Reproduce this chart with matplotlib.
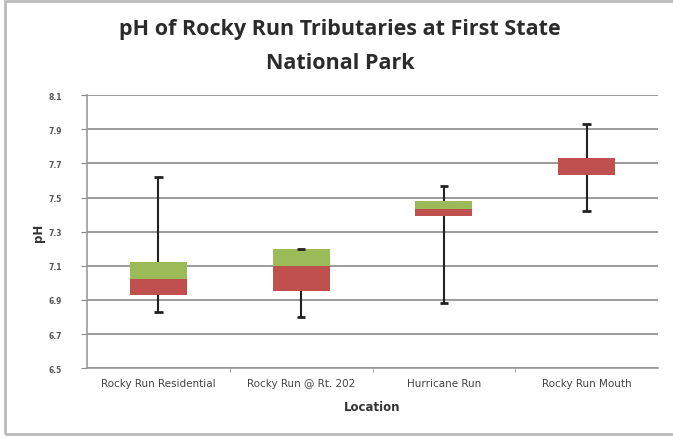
import numpy as np
import matplotlib.pyplot as plt
from matplotlib.patches import Rectangle

# Box plot values
locations = ['Rocky Run Residential', 'Rocky Run @ Rt. 202', 'Hurricane Run', 'Rocky Run Mouth']
ph_min = [6.83, 6.80, 6.88, 7.42]
ph_q1 = [6.93, 6.95, 7.39, 7.63]
ph_median = [7.02, 7.10, 7.43, 7.73]
ph_q3 = [7.12, 7.20, 7.48, 7.73]
ph_max = [7.62, 7.20, 7.57, 7.93]

red = '#C0504D'
green = '#9BBB59'

fig = plt.figure(figsize=(6.73, 4.39), dpi=100)
ax = fig.add_axes([0.129, 0.159, 0.849, 0.622])

x = np.arange(len(locations))
lower = np.array(ph_median) - np.array(ph_q1)
upper = np.array(ph_q3) - np.array(ph_median)

ax.bar(x, lower, bottom=ph_q1, width=0.4, color=red, zorder=3)
ax.bar(x, upper, bottom=ph_median, width=0.4, color=green, zorder=3)

# whiskers
ax.vlines(x, ph_min, ph_q1, color='#222222', lw=1.5, zorder=2)
ax.vlines(x, ph_q3, ph_max, color='#222222', lw=1.5, zorder=2)
ax.hlines(ph_min, x - 0.03, x + 0.03, color='#222222', lw=2, zorder=4)
ax.hlines(ph_max, x - 0.03, x + 0.03, color='#222222', lw=2, zorder=4)

ax.set_xlim(-0.5, len(locations) - 0.5)
ax.set_ylim(6.5, 8.1)
ax.set_yticks(np.arange(6.5, 8.11, 0.2))
ax.set_yticklabels(['%.1f' % v for v in np.arange(6.5, 8.11, 0.2)], fontsize=5.5, fontweight='bold', color='#555555')
ax.set_xticks(x)
ax.set_xticklabels(locations, fontsize=7.5, color='#444444')
ax.set_xticks(x[:-1] + 0.5, minor=True)
ax.tick_params(axis='x', which='major', length=0, pad=7)
ax.tick_params(axis='x', which='minor', length=3, color='#999999')
ax.tick_params(axis='y', length=4, color='#888888', pad=14)

ax.grid(axis='y', color='#8a8a8a', lw=1.2, zorder=0)
for s in ['top', 'right']:
    ax.spines[s].set_visible(False)
ax.spines['left'].set_color('#999999')
ax.spines['bottom'].set_color('#999999')
ax.spines['left'].set_linewidth(1.2)
ax.spines['bottom'].set_linewidth(1.2)

ax.set_xlabel('Location', fontsize=8.5, fontweight='bold', color='#333333', labelpad=9)
ax.set_ylabel('pH', fontsize=8.5, fontweight='bold', color='#333333', labelpad=2)

fig.text(0.505, 0.932, 'pH of Rocky Run Tributaries at First State', ha='center', va='center',
         fontsize=15.5, fontweight='bold', color='#2b2b2b', family='Open Sans')
fig.text(0.505, 0.855, 'National Park', ha='center', va='center',
         fontsize=15.5, fontweight='bold', color='#2b2b2b', family='Open Sans')

# chart frame
fig.patches.append(Rectangle((5 / 673, 0.01), 1.0, 0.985, transform=fig.transFigure,
                             fill=False, edgecolor='#bbbbbb', lw=2))

fig.savefig('out.png', dpi=100)
